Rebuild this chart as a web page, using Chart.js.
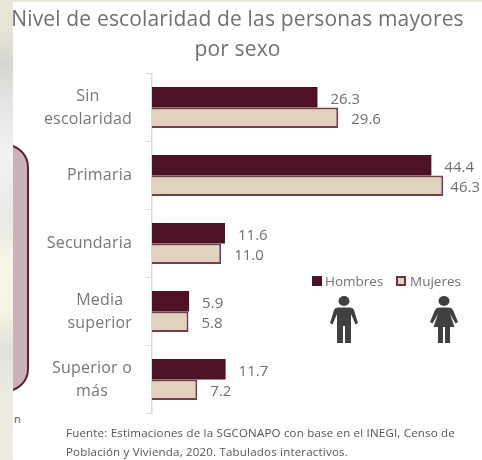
<!DOCTYPE html>
<html>
<head>
<meta charset="utf-8">
<script src="https://cdn.jsdelivr.net/npm/chart.js@4"></script>
<style>
  html, body { margin: 0; padding: 0; }
  body {
    width: 482px; height: 460px; overflow: hidden; position: relative;
    font-family: "Open Sans", sans-serif;
    filter: blur(0.35px);
    background: linear-gradient(180deg, #ebe6d8 0%, #e8e4d6 6%, #d6d6d0 14%, #e6e8e8 24%, #f1f3f3 34%, #e9e9e6 48%, #faf7e6 58%, #f6f3e2 68%, #e2e2da 76%, #ecebdf 86%, #eeeae0 100%);
  }
  #panel { position: absolute; left: 13px; top: 2px; width: 469px; height: 458px; background: #fff; overflow: hidden; }
  #side {
    position: absolute; left: -30px; top: 142px; width: 42px; height: 244px;
    background: #cbb2b8; border: 2px solid #5e1f32; border-radius: 32px;
  }
  canvas { position: absolute; left: 0; top: 0; }
  .txt { position: absolute; white-space: nowrap; color: #737373; }
  #t1 { left: 0; width: 475px; top: 3px; text-align: center; font-size: 21px; letter-spacing: 0.16px; line-height: 30px; color: #707070; }
  #src { left: 66px; top: 423px; font-size: 11.5px; letter-spacing: 0.2px; line-height: 19px; color: #555; }
  #nn { left: 14px; top: 411px; font-size: 11px; color: #555; }
  .swatch { position: absolute; width: 10px; height: 10px; top: 276px; box-sizing: border-box; }
  .leg { top: 272px; font-size: 13.5px; }
  svg { position: absolute; top: 296px; }
</style>
</head>
<body>
<div id="panel"><div id="side"></div></div>
<div class="txt" id="nn">n</div>
<canvas id="chart" width="482" height="460"></canvas>
<div class="txt" id="t1">Nivel de escolaridad de las personas mayores<br>por sexo</div>
<div class="swatch" style="left:312px;background:#4e1126"></div>
<div class="txt leg" style="left:325px">Hombres</div>
<div class="swatch" style="left:396px;background:#e0d2bc;border:2px solid #6f3244"></div>
<div class="txt leg" style="left:410px">Mujeres</div>
<svg style="left:330px" width="28" height="47" viewBox="0 0 28 47" fill="#404040">
  <ellipse cx="14" cy="5" rx="5.5" ry="5"/>
  <path d="M8 11.500H20Q23 11.500 24 14L28 27 25.500 28.500 21 18V47H15V30H13V47H7V18L2.500 28.500 0 27 4 14Q5 11.500 8 11.500Z"/>
</svg>
<svg style="left:430px" width="28" height="47" viewBox="0 0 28 47" fill="#404040">
  <ellipse cx="14" cy="5" rx="5.5" ry="5"/>
  <path d="M9 11.500H19Q22 11.500 23 14L28 26 25.500 27.500 20 18 24.500 31H20V47H15V31H13V47H8V31H3.500L8 18 2.500 27.500 0 26 5 14Q6 11.500 9 11.500Z"/>
</svg>
<div class="txt" id="src">Fuente: Estimaciones de la SGCONAPO con base en el INEGI, Censo de<br>Población y Vivienda, 2020. Tabulados interactivos.</div>

<script>
const categories = [["Sin", "escolaridad"], ["Primaria"], ["Secundaria"], ["Media", "superior"], ["Superior o", "más"]];
const hombres = [26.3, 44.4, 11.6, 5.9, 11.7];
const mujeres = [29.6, 46.3, 11.0, 5.8, 7.2];

// category names are centred line by line, the block sits against the axis
const catLabels = {
  id: "catLabels",
  afterDraw(chart) {
    const ctx = chart.ctx, y = chart.scales.y;
    ctx.save();
    ctx.font = '16px "Open Sans", sans-serif';
    ctx.letterSpacing = "0.2px";
    ctx.fillStyle = "#777";
    ctx.textAlign = "center";
    ctx.textBaseline = "middle";
    categories.forEach((lines, i) => {
      const w = Math.max(...lines.map(l => ctx.measureText(l).width));
      const cx = 132 - w / 2;
      const cy = y.getPixelForTick(i);
      lines.forEach((l, j) => ctx.fillText(l, cx, cy + (j - (lines.length - 1) / 2) * 23));
    });
    ctx.restore();
  }
};

// value labels to the right of each bar, kept inside the right edge
const valueLabels = {
  id: "valueLabels",
  afterDatasetsDraw(chart) {
    const ctx = chart.ctx;
    ctx.save();
    ctx.font = '15px "Open Sans", sans-serif';
    ctx.fillStyle = "#6f6f6f";
    ctx.textBaseline = "middle";
    chart.data.datasets.forEach((ds, d) => {
      chart.getDatasetMeta(d).data.forEach((bar, i) => {
        const text = ds.data[i].toFixed(1);
        const x = Math.min(bar.x + 13, 480 - ctx.measureText(text).width);
        ctx.fillText(text, x, bar.y + 2);
      });
    });
    ctx.restore();
  }
};

new Chart(document.getElementById("chart"), {
  type: "bar",
  data: {
    labels: categories,
    datasets: [
      { label: "Hombres", data: hombres, backgroundColor: "#4e1126", borderColor: "#4e1126", borderWidth: 0 },
      { label: "Mujeres", data: mujeres, backgroundColor: "#e0d2bc", borderColor: "#74404f", borderWidth: 2 }
    ]
  },
  options: {
    indexAxis: "y",
    responsive: false,
    animation: false,
    categoryPercentage: 0.6,
    barPercentage: 1,
    layout: { padding: { top: 73.5, bottom: 46.5, right: 28 } },
    plugins: { legend: { display: false }, title: { display: false }, tooltip: { enabled: false } },
    scales: {
      x: { display: false, min: 0, max: 48 },
      y: {
        afterFit(scale) { scale.width = 152; },
        grid: { drawOnChartArea: false, tickLength: 6, color: "#d9d9d9", offset: true },
        border: { color: "#d9d9d9", width: 1.5 },
        ticks: { display: false }
      }
    }
  },
  plugins: [catLabels, valueLabels]
});
</script>
</body>
</html>
